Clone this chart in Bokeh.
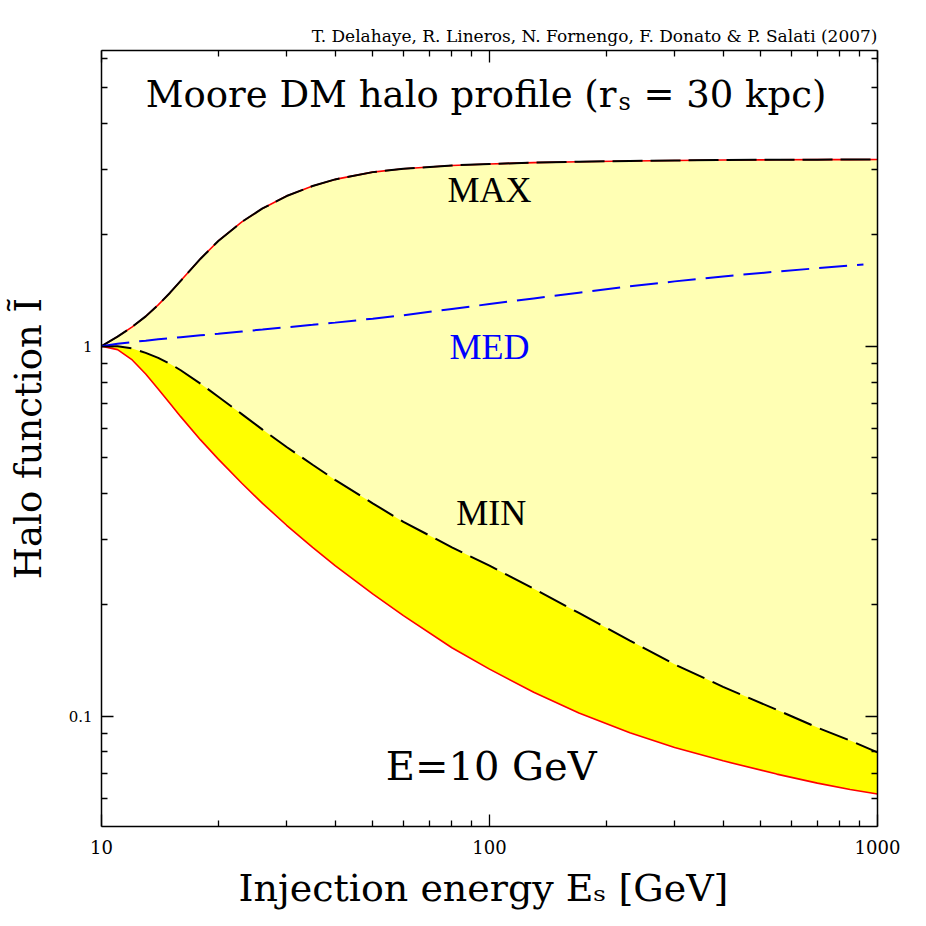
from bokeh.plotting import figure
from bokeh.models import LogAxis, Label, Range1d, FixedTicker, CustomJSTickFormatter
from bokeh.embed import file_html
from bokeh.resources import INLINE

# ---------------- data ----------------
energy = [10, 11, 12, 13, 14, 15, 16, 18, 20, 23, 26, 30, 35, 40, 50, 60, 80,
          100, 130, 170, 230, 300, 400, 550, 700, 850, 1000]
halo_max = [1.00, 1.061, 1.128, 1.204, 1.293, 1.393, 1.502, 1.724, 1.925, 2.168,
            2.357, 2.546, 2.710, 2.824, 2.955, 3.019, 3.080, 3.109, 3.134, 3.152,
            3.167, 3.178, 3.186, 3.191, 3.194, 3.195, 3.196]
halo_min = [1.00, 0.999, 0.986, 0.959, 0.930, 0.897, 0.861, 0.792, 0.730, 0.655,
            0.595, 0.534, 0.478, 0.435, 0.376, 0.335, 0.286, 0.255, 0.221, 0.190,
            0.160, 0.138, 0.120, 0.104, 0.0931, 0.0859, 0.0798]
halo_low = [1.00, 0.979, 0.918, 0.841, 0.766, 0.701, 0.645, 0.558, 0.495, 0.426,
            0.376, 0.328, 0.286, 0.255, 0.214, 0.187, 0.153, 0.134, 0.116, 0.102,
            0.0901, 0.0823, 0.0757, 0.0697, 0.0659, 0.0633, 0.0616]
energy_med = [10, 11, 12, 13, 14, 15, 16, 18, 20, 23, 26, 30, 35, 40, 50, 60, 80,
              100, 130, 170, 230, 300, 400, 550, 700, 920]
halo_med = [1.00, 1.015, 1.026, 1.035, 1.044, 1.051, 1.058, 1.070, 1.081, 1.096,
            1.109, 1.125, 1.142, 1.158, 1.187, 1.212, 1.261, 1.300, 1.346, 1.395,
            1.451, 1.497, 1.544, 1.591, 1.625, 1.662]

x_major = [10, 100, 1000]
x_minor = [20, 30, 40, 50, 60, 70, 80, 90, 200, 300, 400, 500, 600, 700, 800, 900]
y_major = [0.1, 1]
y_minor = [0.06, 0.07, 0.08, 0.09, 0.2, 0.3, 0.4, 0.5, 0.6, 0.7, 0.8, 0.9, 2, 3, 4, 5, 6]

credit = "T. Delahaye, R. Lineros, N. Fornengo, F. Donato & P. Salati (2007)"
FONT = "DejaVu Serif"
FONT2 = "Liberation Serif"

p = figure(x_axis_type="log", y_axis_type="log",
           x_range=Range1d(10, 1000), y_range=Range1d(0.0503, 6.30),
           frame_width=776, frame_height=776,
           min_border_left=101, min_border_right=41, min_border_top=50, min_border_bottom=92,
           output_backend="svg", toolbar_location=None, title=credit)
p.title.align = "right"
p.title.text_font = FONT
p.title.text_font_size = "17px"
p.title.text_font_style = "normal"
p.title.text_color = "black"
p.grid.visible = False
p.outline_line_color = None
p.background_fill_color = "white"

xt = FixedTicker(ticks=x_major, minor_ticks=x_minor)
yt = FixedTicker(ticks=y_major, minor_ticks=y_minor)
fmt = CustomJSTickFormatter(code="return tick.toString();")
blank = CustomJSTickFormatter(code="return '';")

def style(ax, ticker, formatter, size):
    ax.ticker = ticker
    ax.formatter = formatter
    ax.axis_line_width = 1.5
    ax.axis_line_color = "black"
    ax.major_tick_in = 12
    ax.major_tick_out = 0
    ax.minor_tick_in = 6
    ax.minor_tick_out = 0
    ax.major_tick_line_width = 1.3
    ax.minor_tick_line_width = 1.3
    ax.major_label_text_font = FONT
    ax.major_label_text_font_size = size
    ax.major_label_text_color = "black"

style(p.xaxis[0], xt, fmt, "18px")
style(p.yaxis[0], yt, fmt, "15px")
p.xaxis[0].major_label_standoff = 13
p.yaxis[0].major_label_standoff = 9
p.xaxis[0].axis_label = "Injection energy Eₛ  [GeV]"
p.yaxis[0].axis_label = "Halo function Ĩ"
for ax in (p.xaxis[0], p.yaxis[0]):
    ax.axis_label_text_font = FONT
    ax.axis_label_text_font_style = "normal"
    ax.axis_label_text_color = "black"
p.xaxis[0].axis_label_text_font_size = "38px"
p.yaxis[0].axis_label_text_font_size = "37px"
p.xaxis[0].axis_label_standoff = 9
p.yaxis[0].axis_label_standoff = 16

top = LogAxis()
style(top, xt, blank, "10px")
right = LogAxis()
style(right, yt, blank, "10px")
p.add_layout(top, "above")
p.add_layout(right, "right")

# ---------------- fills & curves ----------------
p.varea(x=energy, y1=halo_low, y2=halo_max, fill_color="#FFFFB4")
p.varea(x=energy, y1=halo_low, y2=halo_min, fill_color="#FFFF00")
p.line(energy, halo_low, line_color="#FF0000", line_width=1.6)
p.line(energy, halo_max, line_color="#FF0000", line_width=1.6)
p.line(energy, halo_max, line_color="black", line_width=2, line_dash="30 8")
p.line(energy, halo_min, line_color="black", line_width=2, line_dash="30 9")
p.line(energy_med, halo_med, line_color="#0000FF", line_width=2, line_dash="28 10")

# ---------------- texts ----------------
def lab(x, y, t, size, color="black", align="center", font=FONT):
    p.add_layout(Label(x=x, y=y, text=t, text_font=font, text_font_size=size,
                       text_color=color, text_align=align, text_baseline="alphabetic"))

lab(212.4, 4.80, "Moore DM halo profile (r", "37px", align="right")
lab(215.0, 4.57, "s", "24px", align="left")
lab(249.4, 4.80, "= 30 kpc)", "37px", align="left")
lab(100, 2.651, "MAX", "36px", font=FONT2)
lab(100, 0.992, "MED", "36px", color="#0000FF", font=FONT2)
lab(101, 0.353, "MIN", "36px", font=FONT2)
lab(101, 0.0731, "E=10 GeV", "40px")

open("out.html", "w").write(file_html(p, INLINE))
